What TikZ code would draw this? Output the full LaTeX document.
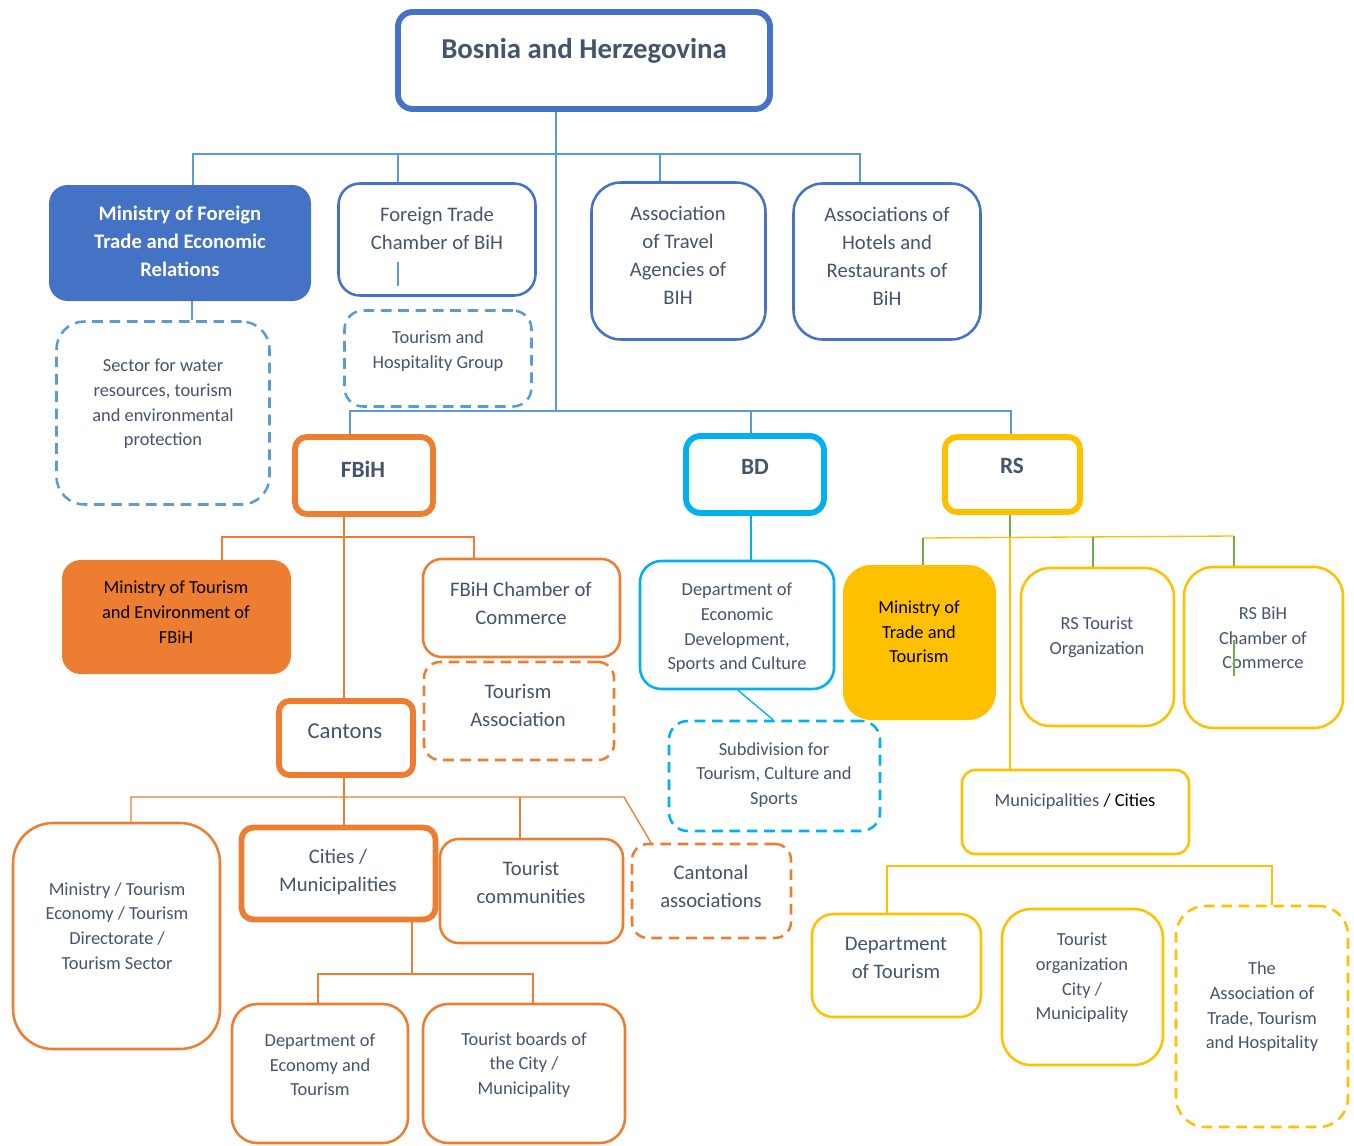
\documentclass[tikz,border=0pt]{standalone}
\usepackage{fontspec}
\setmainfont{Carlito}
\usetikzlibrary{positioning}
\definecolor{bihblue}{HTML}{4472C4}
\definecolor{linkblue}{HTML}{5B9BD5}
\definecolor{fedorange}{HTML}{ED7D31}
\definecolor{bdcyan}{HTML}{00B0F0}
\definecolor{rsgold}{HTML}{FFC000}
\definecolor{rsgreen}{HTML}{70AD47}
\definecolor{slate}{HTML}{44546A}
\tikzset{
  sz/.style 2 args={minimum width=#1*0.75pt,minimum height=#2*0.75pt},
  orgbox/.style={draw,line width=1.9pt,rounded corners=16pt,inner sep=0pt},
  thickbox/.style={orgbox,line width=4.4pt,rounded corners=9pt},
  dashbox/.style={orgbox,dash pattern=on 8pt off 5pt},
  fillbox/.style={rounded corners=14pt,inner sep=0pt},
  lbl/.style={align=center,text=slate,inner sep=0pt,font=\fontsize{15.5}{21}\selectfont},
  slbl/.style={lbl,font=\fontsize{13.8}{18.5}\selectfont},
  hlbl/.style={lbl,font=\fontsize{17.5}{21}\selectfont\bfseries},
  bline/.style={line width=1pt,linkblue},
  oline/.style={line width=1pt,fedorange},
  cline/.style={line width=1pt,bdcyan},
  gline/.style={line width=1pt,rsgold},
  vline/.style={line width=1pt,rsgreen},
}
\begin{document}
\begin{tikzpicture}[x=0.75pt,y=-0.75pt]
  \useasboundingbox (0,0) rectangle (1354,1146);
  % state level
  \node[thickbox,draw=bihblue,sz={372}{97},rounded corners=11pt] (bih) at (584,60.5) {};
  \node[hlbl,font=\fontsize{21.6}{25}\selectfont\bfseries] (bihT) at (584,51) {Bosnia and Herzegovina};
  \node[fillbox,fill=bihblue,sz={262}{116}] (mft) at (180,243) {};
  \node[lbl,text=white,font=\fontsize{15.5}{21}\selectfont\bfseries] (mftT) at (180,241)
    {Ministry of Foreign\\Trade and Economic\\Relations};
  \node[dashbox,draw=linkblue,sz={213}{183},rounded corners=21pt] (sec) at (163,413) {};
  \node[slbl] (secT) at (163,404) {Sector for water\\resources, tourism\\and environmental\\protection};
  \node[orgbox,draw=bihblue,sz={197}{112}] (ftc) at (437,239.5) {};
  \node[lbl] (ftcT) at (437,228) {Foreign Trade\\Chamber of BiH};
  \node[dashbox,draw=linkblue,sz={187}{96},rounded corners=14pt] (thg) at (438,358.5) {};
  \node[slbl] (thgT) at (438,351) {Tourism and\\Hospitality Group};
  \node[orgbox,draw=bihblue,sz={174}{157},rounded corners=22pt] (ata) at (678.5,261) {};
  \node[lbl] (ataT) at (678,255) {Association\\of Travel\\Agencies of\\BIH};
  \node[orgbox,draw=bihblue,sz={187}{156},rounded corners=22pt] (ahr) at (887,261.5) {};
  \node[lbl] (ahrT) at (887,256) {Associations of\\Hotels and\\Restaurants of\\BiH};
  % entities
  \node[thickbox,draw=fedorange,sz={138}{77}] (fbih) at (364,475.5) {};
  \node[hlbl] (fbihT) at (363,469) {FBiH};
  \node[thickbox,draw=bdcyan,sz={138}{77},rounded corners=11pt] (bd) at (755,474.5) {};
  \node[hlbl] (bdT) at (755,467) {BD};
  \node[thickbox,draw=rsgold,sz={135}{75}] (rs) at (1012.5,474.5) {};
  \node[hlbl] (rsT) at (1012,466) {RS};
  % FBiH branch
  \node[fillbox,fill=fedorange,sz={229}{114}] (mte) at (176.5,617) {};
  \node[slbl,text=black] (mteT) at (176,612) {Ministry of Tourism\\and Environment of\\FBiH};
  \node[orgbox,draw=fedorange,sz={197}{98},rounded corners=14pt] (coc) at (521.5,608) {};
  \node[lbl] (cocT) at (521,603) {FBiH Chamber of\\Commerce};
  \node[dashbox,draw=fedorange,sz={190}{98},rounded corners=12pt] (tas) at (519,711) {};
  \node[lbl] (tasT) at (518,705) {Tourism\\Association};
  \node[thickbox,draw=fedorange,sz={134}{74},rounded corners=8pt] (cant) at (346,738) {};
  \node[lbl,font=\fontsize{17}{21}\selectfont] (cantT) at (345,731) {Cantons};
  \node[orgbox,draw=fedorange,sz={207}{226},rounded corners=30pt] (mtd) at (116.5,936) {};
  \node[slbl] (mtdT) at (117,926) {Ministry / Tourism\\Economy / Tourism\\Directorate /\\Tourism Sector};
  \node[thickbox,draw=fedorange,sz={194}{92}] (cit) at (338.5,873.5) {};
  \node[lbl] (citT) at (338,872) {Cities /\\Municipalities};
  \node[orgbox,draw=fedorange,sz={183}{104},rounded corners=14pt] (tcm) at (531.5,891) {};
  \node[lbl] (tcmT) at (531,882) {Tourist\\communities};
  \node[dashbox,draw=fedorange,sz={159}{94},rounded corners=12pt] (cas) at (711.5,891) {};
  \node[lbl] (casT) at (711,886) {Cantonal\\associations};
  \node[orgbox,draw=fedorange,sz={176}{139},rounded corners=19pt] (det) at (320,1073.5) {};
  \node[slbl] (detT) at (320,1065) {Department of\\Economy and\\Tourism};
  \node[orgbox,draw=fedorange,sz={202}{139},rounded corners=19pt] (tbd) at (524,1073.5) {};
  \node[slbl] (tbdT) at (524,1065) {Tourist boards of\\the City /\\Municipality};
  % BD branch
  \node[orgbox,draw=bdcyan,sz={194}{128}] (ded) at (737,625) {};
  \node[slbl] (dedT) at (737,628) {Department of\\Economic\\Development,\\Sports and Culture};
  \node[dashbox,draw=bdcyan,sz={211}{110},rounded corners=14pt] (sub) at (774.5,776) {};
  \node[slbl] (subT) at (774,775) {Subdivision for\\Tourism, Culture and\\Sports};
  % RS branch
  \node[fillbox,fill=rsgold,sz={153}{155},rounded corners=21pt] (mtt) at (919.5,642.5) {};
  \node[slbl,text=black] (mttT) at (919,632) {Ministry of\\Trade and\\Tourism};
  \node[orgbox,draw=rsgold,sz={153}{158},rounded corners=22pt] (rto) at (1097.5,647) {};
  \node[slbl] (rtoT) at (1097,637) {RS Tourist\\Organization};
  \node[orgbox,draw=rsgold,sz={159}{161},rounded corners=22pt] (rcc) at (1263.5,647.5) {};
  \node[slbl] (rccT) at (1263,638) {RS BiH\\Chamber of\\Commerce};
  \node[orgbox,draw=rsgold,sz={227}{84},rounded corners=10pt] (mun) at (1075.5,812) {};
  \node[slbl] (munT) at (1075,802) {Municipalities \textcolor{black}{/ Cities}};
  \node[orgbox,draw=rsgold,sz={169}{103}] (dot) at (896.5,965.5) {};
  \node[lbl] (dotT) at (896,958) {Department\\of Tourism};
  \node[orgbox,draw=rsgold,sz={161}{156},rounded corners=22pt] (toc) at (1082.5,987) {};
  \node[slbl] (tocT) at (1082,978) {Tourist\\organization\\City /\\Municipality};
  \node[dashbox,draw=rsgold,sz={172}{221},rounded corners=22pt] (ath) at (1262,1016.5) {};
  \node[slbl] (athT) at (1262,1007) {The\\Association of\\Trade, Tourism\\and Hospitality};
  % links
  \draw[bline] (556,0 |- bih.south) -- (556,411);
  \draw[bline] (193,0 |- mft.north) |- (860,154) -- (860,0 |- ahr.north);
  \draw[bline] (398,154) -- (398,0 |- ftc.north);
  \draw[bline] (660,154) -- (660,0 |- ata.north);
  \draw[bline] (398,262) -- (398,286);
  \draw[bline] (192,0 |- mft.south) -- (192,0 |- sec.north);
  \draw[bline] (350,0 |- fbih.north) |- (1011,411) -- (1011,0 |- rs.north);
  \draw[bline] (751,411) -- (751,0 |- bd.north);
  \draw[cline] (751,0 |- bd.south) -- (751,0 |- ded.north);
  \draw[cline] (738,0 |- ded.south) -- (773,0 |- sub.north);
  \draw[oline] (344,0 |- fbih.south) -- (344,0 |- cant.north);
  \draw[oline] (222,0 |- mte.north) |- (474,537) -- (474,0 |- coc.north);
  \draw[oline] (344,0 |- cant.south) -- (344,0 |- cit.north);
  \draw[oline] (131,0 |- mtd.north) |- (624,797) -- (651,0 |- cas.north);
  \draw[oline] (520,797) -- (520,0 |- tcm.north);
  \draw[oline] (412,0 |- cit.south) -- (412,974);
  \draw[oline] (318,0 |- det.north) |- (533,974) -- (533,0 |- tbd.north);
  \draw[vline] (1010,0 |- rs.south) -- (1010,537);
  \draw[gline] (1010,537) -- (1010,0 |- mun.north);
  \draw[gline] (923,538) -- (1234,536);
  \draw[vline] (923,538) -- (923,0 |- mtt.north);
  \draw[vline] (1093,537) -- (1093,0 |- rto.north);
  \draw[vline] (1234,536) -- (1234,0 |- rcc.north);
  \draw[vline] (1234,640) -- (1234,676);
  \draw[gline] (887,0 |- dot.north) |- (1272,866) -- (1272,0 |- ath.north);
\end{tikzpicture}
\end{document}
